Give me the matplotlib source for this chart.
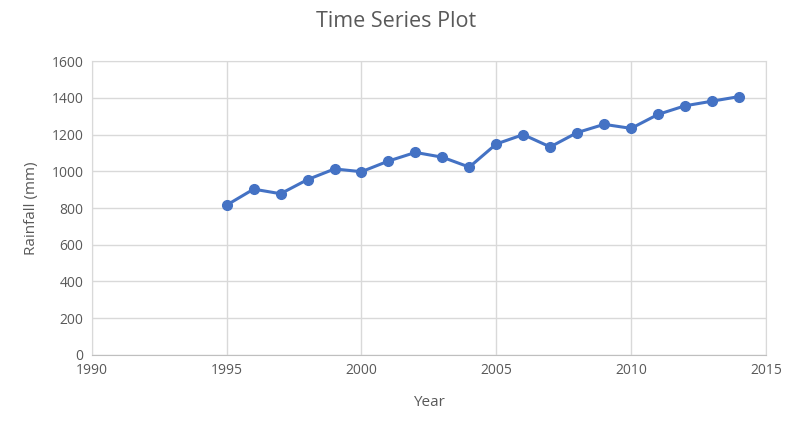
import matplotlib.pyplot as plt
import numpy as np

years = np.arange(1995, 2015)
rainfall = [816, 903, 878, 955, 1013, 998, 1056, 1103, 1077, 1023,
            1149, 1200, 1133, 1211, 1256, 1234, 1310, 1357, 1382, 1407]
x_ticks = [1990, 1995, 2000, 2005, 2010, 2015]
y_ticks = [0, 200, 400, 600, 800, 1000, 1200, 1400, 1600]

plt.rcParams['font.family'] = ['Open Sans', 'DejaVu Sans']
text_color = '#595959'
grid_color = '#d9d9d9'

fig = plt.figure(figsize=(7.92, 4.22), dpi=100)
ax = fig.add_axes([0.116, 0.159, 0.851, 0.696])

ax.plot(years, rainfall, color='#4472C4', linewidth=2.2, marker='o',
        markersize=7, zorder=3)

ax.set_xlim(1990, 2015)
ax.set_ylim(0, 1600)
ax.set_xticks(x_ticks)
ax.set_yticks(y_ticks)
ax.grid(True, color=grid_color, linewidth=1)
ax.set_axisbelow(True)

# the outer grid lines sit on the frame
for side in ['top', 'right', 'left']:
    ax.spines[side].set_color(grid_color)
ax.spines['bottom'].set_color('#bfbfbf')

ax.tick_params(length=0, labelsize=10, labelcolor=text_color, pad=6)
ax.set_xlabel('Year', fontsize=11, color=text_color, labelpad=12)
ax.set_ylabel('Rainfall (mm)', fontsize=11, color=text_color, labelpad=9)
fig.suptitle('Time Series Plot', fontsize=15.5, color=text_color, y=0.975)

fig.savefig('out.png', dpi=100)
